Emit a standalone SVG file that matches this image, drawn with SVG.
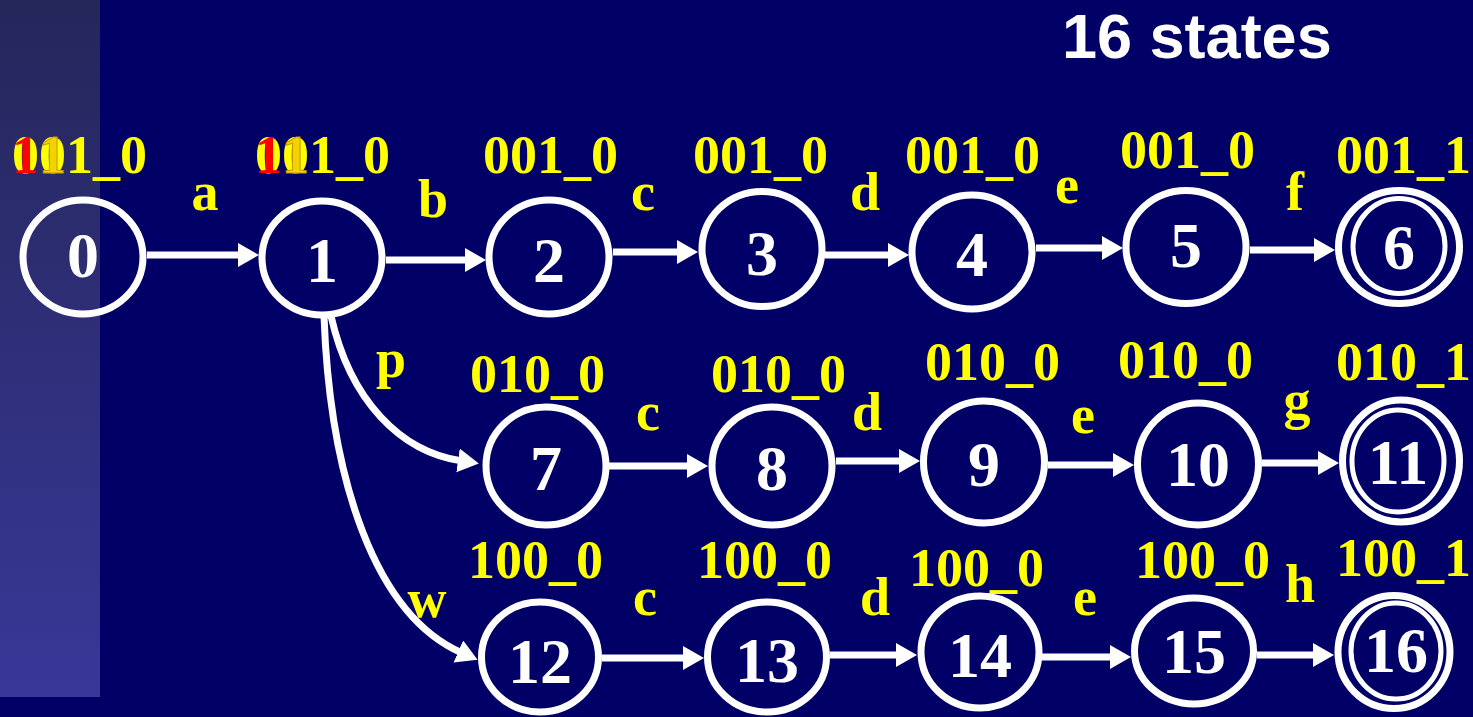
<svg xmlns="http://www.w3.org/2000/svg" width="1473" height="717" viewBox="0 0 1473 717">
<defs>
<linearGradient id="bar" x1="0" y1="0" x2="0" y2="1">
<stop offset="0" stop-color="#25265a"/>
<stop offset="1" stop-color="#383898"/>
</linearGradient>
<marker id="ah" markerUnits="userSpaceOnUse" markerWidth="24" markerHeight="26" refX="4" refY="12" orient="auto">
<path d="M0,0 L21,12 L0,24 z" fill="#ffffff"/>
</marker>
<style>
.n{fill:none;stroke:#ffffff;stroke-width:7}
.ni{fill:none;stroke:#ffffff;stroke-width:5}
.num{font-family:"Liberation Serif","Times New Roman",serif;font-weight:bold;font-size:64px;fill:#ffffff;text-anchor:middle}
.lab{font-family:"Liberation Serif","Times New Roman",serif;font-weight:bold;font-size:54px;fill:#ffff00}
.el{font-family:"Liberation Serif","Times New Roman",serif;font-weight:bold;font-size:54px;fill:#ffff00;text-anchor:middle}
.e{fill:none;stroke:#ffffff;stroke-width:7;marker-end:url(#ah)}
</style>
</defs>
<rect x="0" y="0" width="1473" height="717" fill="#000066"/>
<rect x="0" y="0" width="100" height="697" fill="url(#bar)"/>
<text x="1062" y="58" font-family="Liberation Sans, Arial, sans-serif" font-weight="bold" font-size="63" fill="#ffffff">16 states</text>

<g id="connectors">
<line class="e" x1="147" y1="255" x2="242" y2="255"/>
<line class="e" x1="386" y1="260" x2="469" y2="260"/>
<line class="e" x1="613" y1="252" x2="681" y2="252"/>
<line class="e" x1="825" y1="255" x2="892" y2="255"/>
<line class="e" x1="1036" y1="248" x2="1106" y2="248"/>
<line class="e" x1="1250" y1="250" x2="1318" y2="250"/>
<path class="e" d="M331,316 C350,400 400,452 462,461"/>
<path class="e" d="M324,316 C330,480 375,615 462,653"/>
<line class="e" x1="609" y1="466" x2="691" y2="466"/>
<line class="e" x1="836" y1="461" x2="903" y2="461"/>
<line class="e" x1="1048" y1="465" x2="1117" y2="465"/>
<line class="e" x1="1262" y1="463" x2="1322" y2="463"/>
<line class="e" x1="602" y1="658" x2="687" y2="658"/>
<line class="e" x1="830" y1="655" x2="900" y2="655"/>
<line class="e" x1="1042" y1="657" x2="1114" y2="657"/>
<line class="e" x1="1257" y1="655" x2="1317" y2="655"/>
<text class="el" x="205" y="210">a</text>
<text class="el" x="433" y="217">b</text>
<text class="el" x="643" y="210">c</text>
<text class="el" x="865" y="210">d</text>
<text class="el" x="1067" y="203">e</text>
<text class="el" x="1295" y="210">f</text>
<text class="el" x="391" y="377">p</text>
<text class="el" x="648" y="430">c</text>
<text class="el" x="867" y="430">d</text>
<text class="el" x="1083" y="433">e</text>
<text class="el" x="1297" y="418">g</text>
<text class="el" x="427" y="617">w</text>
<text class="el" x="645" y="615">c</text>
<text class="el" x="875" y="615">d</text>
<text class="el" x="1085" y="615">e</text>
<text class="el" x="1300" y="602">h</text>
</g>

<g id="node0"><ellipse class="n" cx="83" cy="257" rx="60" ry="57"/><text class="num" x="83" y="277">0</text>
<text class="lab" x="12" y="173">001_0</text><text class="lab" x="12" y="173" style="fill:#ff0000">1</text><text class="lab" x="39" y="173" style="fill:#f2d200;stroke:#c89600;stroke-width:1">1</text></g>
<g id="node1"><ellipse class="n" cx="322" cy="258" rx="60" ry="57"/><text class="num" x="322" y="282">1</text>
<text class="lab" x="255" y="173">001_0</text><text class="lab" x="255" y="173" style="fill:#ff0000">1</text><text class="lab" x="282" y="173" style="fill:#f2d200;stroke:#c89600;stroke-width:1">1</text></g>
<g id="node2"><ellipse class="n" cx="549" cy="257" rx="60" ry="57"/><text class="num" x="549" y="282">2</text><text class="lab" x="483" y="173">001_0</text></g>
<g id="node3"><ellipse class="n" cx="762" cy="249" rx="60" ry="57.5"/><text class="num" x="762" y="275">3</text><text class="lab" x="693" y="173">001_0</text></g>
<g id="node4"><ellipse class="n" cx="972" cy="252" rx="60" ry="57"/><text class="num" x="972" y="276">4</text><text class="lab" x="905" y="173">001_0</text></g>
<g id="node5"><ellipse class="n" cx="1186" cy="247" rx="60" ry="56.5"/><text class="num" x="1186" y="267">5</text><text class="lab" x="1120" y="168">001_0</text></g>
<g id="node6"><ellipse class="n" cx="1399" cy="247" rx="60.5" ry="56.5"/><ellipse class="ni" cx="1399" cy="246" rx="46" ry="47.5"/><text class="num" x="1399" y="269">6</text><text class="lab" x="1336" y="173">001_1</text></g>

<g id="node7"><ellipse class="n" cx="546" cy="466" rx="60" ry="59"/><text class="num" x="546" y="490">7</text><text class="lab" x="470" y="392">010_0</text></g>
<g id="node8"><ellipse class="n" cx="772" cy="466" rx="60" ry="59"/><text class="num" x="772" y="490">8</text><text class="lab" x="711" y="392">010_0</text></g>
<g id="node9"><ellipse class="n" cx="984" cy="462" rx="60.5" ry="61"/><text class="num" x="984" y="486">9</text><text class="lab" x="925" y="380">010_0</text></g>
<g id="node10"><ellipse class="n" cx="1198" cy="464" rx="60.5" ry="61"/><text class="num" x="1198" y="486">10</text><text class="lab" x="1118" y="378">010_0</text></g>
<g id="node11"><ellipse class="n" cx="1401" cy="461" rx="58.5" ry="61"/><ellipse class="ni" cx="1398" cy="461" rx="46" ry="51"/><text class="num" x="1398" y="484">11</text><text class="lab" x="1336" y="380">010_1</text></g>

<g id="node12"><ellipse class="n" cx="540" cy="657" rx="58.5" ry="55"/><text class="num" x="540" y="683">12</text><text class="lab" x="468" y="578">100_0</text></g>
<g id="node13"><ellipse class="n" cx="767" cy="657" rx="59.5" ry="55"/><text class="num" x="767" y="682">13</text><text class="lab" x="697" y="578">100_0</text></g>
<g id="node14"><ellipse class="n" cx="980" cy="652" rx="59" ry="56"/><text class="num" x="980" y="677">14</text><text class="lab" x="909" y="586">100_0</text></g>
<g id="node15"><ellipse class="n" cx="1194" cy="651" rx="59.5" ry="53"/><text class="num" x="1194" y="673">15</text><text class="lab" x="1135" y="578">100_0</text></g>
<g id="node16"><ellipse class="n" cx="1394" cy="652" rx="56" ry="56.5"/><ellipse class="ni" cx="1396" cy="651" rx="45" ry="48"/><text class="num" x="1396" y="672">16</text><text class="lab" x="1336" y="576">100_1</text></g>
</svg>
